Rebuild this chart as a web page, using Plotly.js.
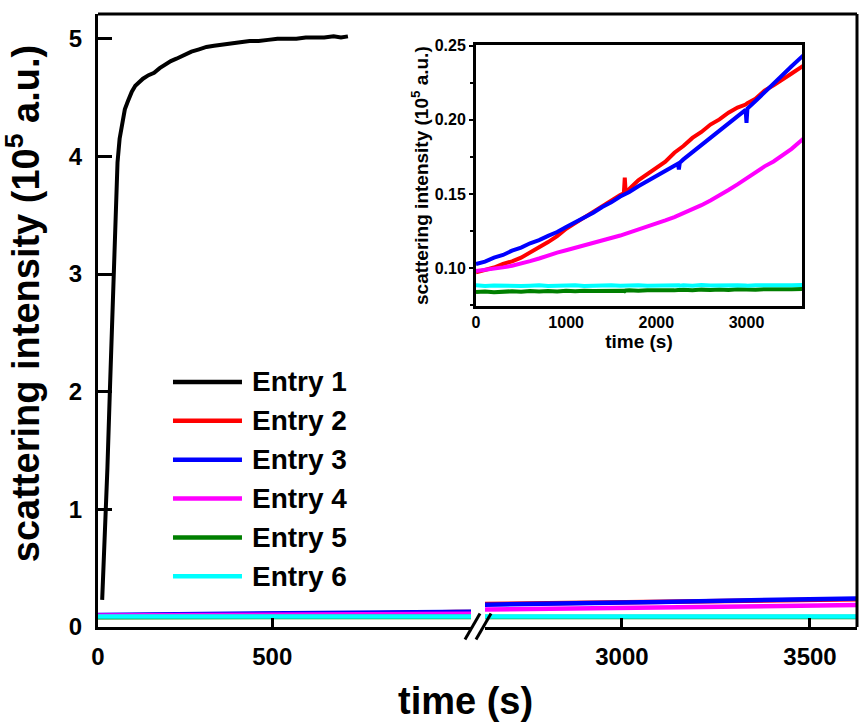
<!DOCTYPE html>
<html>
<head>
<meta charset="utf-8">
<script src="https://cdn.plot.ly/plotly-3.0.1.min.js"></script>
<style>html,body{margin:0;padding:0;background:#fff;}#chart{width:860px;height:724px;}</style>
</head>
<body>
<div id="chart"></div>
<script>
// ---------------- data ----------------
const entryNames = ['Entry 1', 'Entry 2', 'Entry 3', 'Entry 4', 'Entry 5', 'Entry 6'];
const entryColors = ['#000000', '#ff0000', '#0000ff', '#ff00ff', '#007f00', '#00ffff'];

// Entry 1 (only first ~720 s)
const time1 = [12, 19, 27, 34, 42, 49, 56, 62, 70, 77, 86, 97, 107, 118, 129, 145, 161, 177, 193, 209, 225, 247, 268, 290, 311, 333, 354, 381, 408, 435, 461, 488, 515, 542, 569, 596, 622, 649, 676, 697, 717];
const entry1 = [0.23, 0.7, 1.35, 2.0, 2.7, 3.4, 3.95, 4.15, 4.3, 4.4, 4.47, 4.55, 4.6, 4.63, 4.66, 4.69, 4.71, 4.75, 4.78, 4.81, 4.83, 4.86, 4.89, 4.91, 4.93, 4.94, 4.95, 4.96, 4.97, 4.98, 4.98, 4.99, 5.0, 5.0, 5.0, 5.01, 5.01, 5.01, 5.02, 5.01, 5.02];

// Entries 2-6 (full time span)
const time = [0, 100, 200, 300, 400, 500, 600, 700, 800, 900, 1000, 1100, 1200, 1300, 1400, 1500, 1600, 1640, 1650, 1660, 1700, 1800, 1900, 2000, 2100, 2200, 2240, 2250, 2260, 2300, 2400, 2500, 2600, 2700, 2800, 2900, 2990, 3000, 3010, 3100, 3200, 3300, 3400, 3500, 3630];
const entry2 = [0.097, 0.0985, 0.1003, 0.1027, 0.1045, 0.107, 0.1103, 0.1137, 0.1175, 0.1215, 0.1265, 0.1303, 0.1342, 0.1378, 0.1415, 0.1455, 0.1492, 0.1505, 0.161, 0.1514, 0.1533, 0.1592, 0.1633, 0.1678, 0.1718, 0.1778, 0.1793, 0.1798, 0.1807, 0.1823, 0.1878, 0.1918, 0.1968, 0.2003, 0.2048, 0.2083, 0.2103, 0.2108, 0.2113, 0.2142, 0.2197, 0.2233, 0.2277, 0.2313, 0.2365];
const entry3 = [0.1027, 0.1043, 0.107, 0.1088, 0.1117, 0.1138, 0.1167, 0.1188, 0.1217, 0.1243, 0.1277, 0.1308, 0.1342, 0.1373, 0.1412, 0.1443, 0.1482, 0.1494, 0.1499, 0.1503, 0.1513, 0.1552, 0.1588, 0.1617, 0.1653, 0.1692, 0.1704, 0.1665, 0.1711, 0.1733, 0.1782, 0.1823, 0.1877, 0.1923, 0.1977, 0.2023, 0.2067, 0.198, 0.2076, 0.2127, 0.2183, 0.2247, 0.2303, 0.2362, 0.2435];
const entry4 = [0.098, 0.0986, 0.0994, 0.1004, 0.1015, 0.1029, 0.1046, 0.1064, 0.1086, 0.1104, 0.112, 0.1136, 0.1149, 0.1169, 0.1184, 0.1203, 0.1219, 0.1227, 0.1229, 0.1233, 0.124, 0.1261, 0.1279, 0.1297, 0.1321, 0.1344, 0.1354, 0.1357, 0.1361, 0.1369, 0.1396, 0.1424, 0.1456, 0.1489, 0.1526, 0.1564, 0.1601, 0.1606, 0.1611, 0.1644, 0.1686, 0.1719, 0.1761, 0.1804, 0.1872];
const entry5 = [0.0838, 0.0842, 0.0836, 0.0840, 0.0843, 0.0839, 0.0844, 0.0841, 0.0845, 0.0842, 0.0846, 0.0843, 0.0847, 0.0844, 0.0846, 0.0849, 0.0845, 0.0847, 0.0844, 0.0848, 0.0849, 0.0846, 0.0850, 0.0848, 0.0851, 0.0849, 0.0852, 0.0848, 0.0851, 0.0853, 0.0850, 0.0854, 0.0851, 0.0855, 0.0852, 0.0856, 0.0853, 0.0855, 0.0857, 0.0854, 0.0857, 0.0855, 0.0858, 0.0856, 0.0859];
const entry6 = [0.0883, 0.0879, 0.0882, 0.0880, 0.0884, 0.0879, 0.0881, 0.0883, 0.0878, 0.0882, 0.0880, 0.0884, 0.0879, 0.0882, 0.0881, 0.0883, 0.0880, 0.0882, 0.0879, 0.0883, 0.0881, 0.0884, 0.0880, 0.0882, 0.0879, 0.0883, 0.0881, 0.0884, 0.0880, 0.0883, 0.0881, 0.0885, 0.0882, 0.0884, 0.0880, 0.0883, 0.0882, 0.0885, 0.0881, 0.0884, 0.0882, 0.0885, 0.0883, 0.0884, 0.0886];

// axis ticks
const xTicksLeft = [0, 500];
const xTicksRight = [3000, 3500];
const yTicksMain = [0, 1, 2, 3, 4, 5];
const xTicksInset = [0, 1000, 2000, 3000];
const yTicksInset = [0.10, 0.15, 0.20, 0.25];

// ---------------- build ----------------
const FONT = 'Liberation Sans, Arial, sans-serif';
const laterSeries = [entry2, entry3, entry4, entry5, entry6];

const traces = [];
traces.push({x: time1, y: entry1, xaxis: 'x', yaxis: 'y', type: 'scatter', mode: 'lines',
  line: {color: entryColors[0], width: 4}, name: entryNames[0], showlegend: false});
['x', 'x2'].forEach(function (xa) {
  laterSeries.forEach(function (s, i) {
    traces.push({x: time, y: s, xaxis: xa, yaxis: 'y', type: 'scatter', mode: 'lines',
      line: {color: entryColors[i + 1], width: 4.5}, name: entryNames[i + 1], showlegend: false});
  });
});
laterSeries.forEach(function (s, i) {
  traces.push({x: time, y: s, xaxis: 'x3', yaxis: 'y3', type: 'scatter', mode: 'lines',
    line: {color: entryColors[i + 1], width: 4}, name: entryNames[i + 1], showlegend: false});
});

const boldTick = {family: FONT, size: 24, color: '#000', weight: 'bold'};
const mainX = {
  anchor: 'y', showline: true, linewidth: 3, linecolor: '#000', ticks: 'inside', ticklen: 9,
  tickwidth: 3, tickcolor: '#000', showgrid: false, zeroline: false, tickfont: boldTick,
  tickmode: 'array', ticklabelstandoff: 6
};

const shapes = [
  // top and right frame lines
  {type: 'line', xref: 'paper', yref: 'paper', x0: 0, x1: 1, y0: 1, y1: 1, line: {color: '#000', width: 3}},
  {type: 'line', xref: 'paper', yref: 'paper', x0: 1, x1: 1, y0: 0, y1: 1, line: {color: '#000', width: 3}},
  // axis break marks
  {type: 'line', xref: 'paper', yref: 'paper', x0: 0.4835, y0: -0.0204, x1: 0.5033, y1: 0.022, line: {color: '#000', width: 3}},
  {type: 'line', xref: 'paper', yref: 'paper', x0: 0.4980, y0: -0.0204, x1: 0.5178, y1: 0.022, line: {color: '#000', width: 3}}
];
const annotations = [
  {xref: 'paper', yref: 'paper', x: 0.484, y: -0.1215, xanchor: 'center', yanchor: 'middle', showarrow: false,
   text: 'time (s)', font: {family: FONT, size: 38, color: '#000', weight: 'bold'}},
  {xref: 'paper', yref: 'paper', x: -0.0985, y: 0.527, xanchor: 'center', yanchor: 'middle', showarrow: false,
   textangle: -90, text: 'scattering intensity (10<sup>5</sup> a.u.)',
   font: {family: FONT, size: 38, color: '#000', weight: 'bold'}}
];
// custom legend
const legX0 = 0.0988, legX1 = 0.1897, legTextX = 0.2003, legY0 = 0.3997, legStep = 0.0634;
entryNames.forEach(function (n, i) {
  const yy = legY0 - i * legStep;
  shapes.push({type: 'line', xref: 'paper', yref: 'paper', x0: legX0, x1: legX1, y0: yy, y1: yy,
    line: {color: entryColors[i], width: 4.5}});
  annotations.push({xref: 'paper', yref: 'paper', x: legTextX, y: yy, xanchor: 'left', yanchor: 'middle',
    showarrow: false, text: n, font: {family: FONT, size: 28, color: '#000', weight: 'bold'}});
});

const layout = {
  width: 860, height: 724,
  margin: {l: 98, r: 3, t: 14, b: 97},
  paper_bgcolor: '#fff', plot_bgcolor: 'rgba(0,0,0,0)',
  font: {family: FONT, color: '#000'},
  showlegend: false,
  xaxis: Object.assign({}, mainX, {domain: [0, 0.4914], range: [0, 1070], tickvals: xTicksLeft}),
  xaxis2: Object.assign({}, mainX, {domain: [0.5099, 1], range: [2636, 3625], tickvals: xTicksRight}),
  yaxis: {
    domain: [0, 1], range: [0, 5.21], anchor: 'x', showline: true, linewidth: 3, linecolor: '#000',
    ticks: 'inside', ticklen: 14, tickwidth: 3, tickcolor: '#000', tickmode: 'array', tickvals: yTicksMain,
    showgrid: false, zeroline: false, tickfont: boldTick, ticklabelstandoff: 8
  },
  xaxis3: {
    domain: [0.498, 0.9275], anchor: 'y3', range: [0, 3615], showline: true, mirror: true, linewidth: 3,
    linecolor: '#000', ticks: '', showgrid: false, zeroline: false, tickmode: 'array', tickvals: xTicksInset,
    tickfont: {family: FONT, size: 16, color: '#000', weight: 'bold'},
    title: {text: 'time (s)', standoff: 5, font: {family: FONT, size: 19, color: '#000', weight: 'bold'}}
  },
  yaxis3: {
    domain: [0.5233, 0.9494], anchor: 'x3', range: [0.0742, 0.2505], showline: true, mirror: true, linewidth: 3,
    linecolor: '#000', ticks: 'outside', ticklen: 4, tickwidth: 2, tickcolor: '#000', tickmode: 'array',
    tickvals: yTicksInset, tickformat: '.2f', showgrid: false, zeroline: false,
    minor: {ticks: 'outside', ticklen: 3, tickwidth: 1.5, tickcolor: '#000', dtick: 0.025, tick0: 0},
    tickfont: {family: FONT, size: 16, color: '#000', weight: 'bold'},
    title: {text: 'scattering intensity (10<sup>5</sup> a.u.)', standoff: 1,
            font: {family: FONT, size: 19, color: '#000', weight: 'bold'}}
  },
  shapes: shapes,
  annotations: annotations
};

Plotly.newPlot('chart', traces, layout, {displayModeBar: false, staticPlot: true});
</script>
</body>
</html>
